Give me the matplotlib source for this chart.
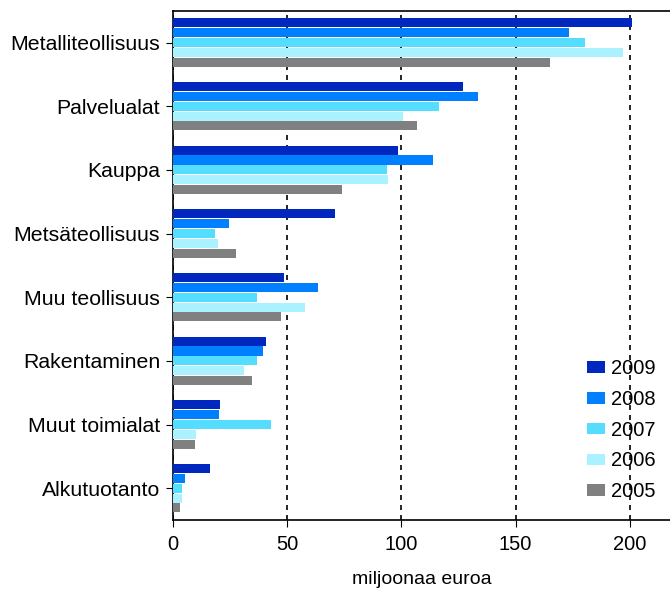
import numpy as np
import matplotlib
matplotlib.use("Agg")
import matplotlib.pyplot as plt

categories = ["Metalliteollisuus", "Palvelualat", "Kauppa", "Metsäteollisuus",
              "Muu teollisuus", "Rakentaminen", "Muut toimialat", "Alkutuotanto"]
years = ["2009", "2008", "2007", "2006", "2005"]
v2009 = [201, 127, 98.6, 71, 48.8, 41, 20.7, 16.5]
v2008 = [173.5, 133.7, 114, 24.8, 63.4, 39.6, 20.1, 5.2]
v2007 = [180.5, 116.6, 93.6, 18.5, 36.7, 36.7, 43.2, 3.9]
v2006 = [196.8, 100.6, 94.3, 20, 57.9, 31.2, 10.2, 3.9]
v2005 = [165, 107, 73.9, 27.7, 47.2, 34.7, 9.6, 3.2]
colors = ["#0028be", "#0080ff", "#55ddff", "#aaf2ff", "#808080"]

plt.rcParams['font.family'] = ['Liberation Sans', 'DejaVu Sans']

fig = plt.figure(figsize=(6.7, 5.9), dpi=100)
ax = fig.add_axes([0.2578, 0.1186, 0.7422, 0.8633])

series = [v2009, v2008, v2007, v2006, v2005]
y = np.arange(len(categories))
h = 0.155
for i, vals in enumerate(series):
    offs = (i - 2) * h
    ax.barh(y + offs, vals, height=h * 0.92, color=colors[i],
            edgecolor="none", label=years[i], zorder=3)

ax.set_ylim(len(categories) - 0.5, -0.5)
ax.set_xlim(0, 217.5)
ax.set_yticks(y)
ax.set_yticklabels(categories, fontsize=15.3)
ax.set_xticks([0, 50, 100, 150, 200])
ax.tick_params(axis='x', labelsize=14.5, direction='out', length=5, pad=6)
ax.tick_params(axis='y', direction='out', length=5, pad=4)
ax.xaxis.grid(True, color='black', linestyle=(0, (3, 3)), linewidth=1.2, zorder=1)
ax.set_axisbelow(True)
ax.spines['right'].set_visible(False)
for s in ['left', 'top', 'bottom']:
    ax.spines[s].set_linewidth(1.2)
ax.set_xlabel("miljoonaa euroa", fontsize=14, labelpad=12)

leg = ax.legend(loc='upper left', bbox_to_anchor=(0.797, 0.351), frameon=False,
                fontsize=14.5, handlelength=0.9, handleheight=0.5,
                labelspacing=0.58, handletextpad=0.3)

fig.savefig("out.png", dpi=100)
